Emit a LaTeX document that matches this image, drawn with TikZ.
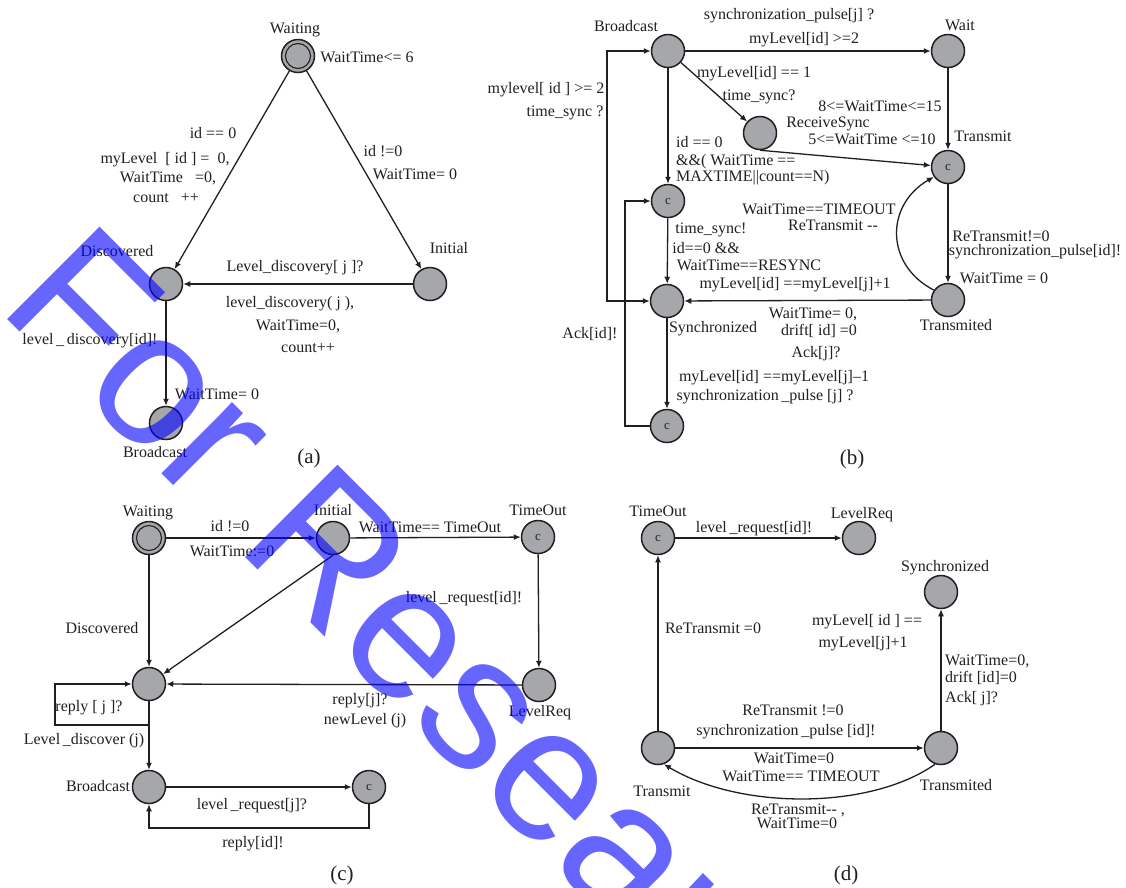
\documentclass[tikz,border=0pt]{standalone}
\usepackage{fontspec}
\setmainfont{Liberation Serif}
\newfontfamily\markfont{Liberation Sans}
\usetikzlibrary{arrows.meta}
\definecolor{ink}{RGB}{35,31,32}
\definecolor{locgray}{RGB}{166,167,171}
\definecolor{markblue}{RGB}{0,0,255}
\newcommand{\lblsize}{\fontsize{16}{18}\selectfont}
\begin{document}
\begin{tikzpicture}[x=1pt,y=-1pt,
  loc/.style={circle,draw=ink,line width=1.5pt,fill=locgray,minimum size=33pt,inner sep=0pt,
    font=\fontsize{13}{13}\selectfont,text=ink},
  lbl/.style={inner sep=0pt,font=\lblsize,text=ink,text height=11pt,text depth=3pt},
  lbll/.style={lbl,anchor=west},
  subcap/.style={inner sep=0pt,font=\fontsize{21}{21}\selectfont,text=ink},
  tr/.style={draw=ink,line width=1.3pt,-{Latex[length=7pt,width=6pt]}},
  bi/.style={draw=ink,line width=1.3pt,{Latex[length=7pt,width=6pt]}-{Latex[length=7pt,width=6pt]}},
  ring/.style={draw=ink,line width=1.1pt},
]
\useasboundingbox (0,0) rectangle (1126,887);
\fill[white] (0,0) rectangle (1126,887);

% ---------------- (a) ----------------
\node[loc] (aW) at (298,56) {};
\draw[ring] (aW.center) circle (12.5);
\node[loc] (aD) at (166,284) {};
\node[loc] (aI) at (430,284) {};
\node[loc] (aB) at (166,423) {};
\draw[tr] (aW) -- (aD);
\draw[tr] (aW) -- (aI);
\draw[tr] (aI) -- (aD);
\draw[tr] (aD) -- (aB);
\node[lbl] at (295,29) {Waiting};
\node[lbl] at (367,58) {WaitTime<= 6};
\node[lbl] at (213,134) {id == 0};
\node[lbl] at (165,159) {myLevel\ \ [ id ] =\ \ 0,};
\node[lbl] at (168,178) {WaitTime\ \ \ =0,};
\node[lbl] at (166,198) {count\ \ \ ++};
\node[lbl] at (383,152) {id !=0};
\node[lbl] at (415,175) {WaitTime= 0};
\node[lbl] at (449,249) {Initial};
\node[lbl] at (117,252) {Discovered};
\node[lbl] at (295,267) {Level\_discovery[ j ]?};
\node[lbl] at (290,303) {level\_discovery( j ),};
\node[lbl] at (298,326) {WaitTime=0,};
\node[lbl] at (308,348) {count++};
\node[lbl] at (90,340) {level\,\_\,discovery[id]!};
\node[lbl] at (217,395) {WaitTime= 0};
\node[lbl] at (155,453) {Broadcast};
\node[subcap] at (309,458) {(a)};

% ---------------- (b) ----------------
\node[loc] (bB) at (668,51) {};
\node[loc] (bW) at (948,51) {};
\node[loc] (bR) at (760,133) {};
\node[loc] (bT) at (948,167) {c};
\node[loc] (bX) at (948,300) {};
\node[loc] (bS) at (667,301) {};
\node[loc] (bC1) at (668,201) {c};
\node[loc] (bC2) at (667,426) {c};
\coordinate (bk) at (625,426);
\coordinate (bj) at (607,301);
\draw[tr] (bB) -- (bW);
\draw[tr] (bW) -- (bT);
\draw[tr] (bB) -- (bR);
\draw[tr] (bR.south) -- (bT);
\draw[tr] (bB) -- (bC1);
\draw[tr] (bC1) -- (bS);
\draw[tr] (bT) -- (bX);
\draw[tr] (bX.145) .. controls (885,265) and (885,205) .. (bT.215);
\draw[tr] (bX) -- (bS);
\draw[tr] (bS) -- (bC2);
\draw[tr] (bC2.west) -- (bk) |- (bC1.west);
\draw[bi] (bS.west) -- (bj) |- (bB.west);
\node[lbl] at (626,27) {Broadcast};
\node[lbl] at (789,15) {synchronization\_pulse[j] ?};
\node[lbl] at (804,39) {myLevel[id] >=2};
\node[lbl] at (960,26) {Wait};
\node[lbl] at (754,73) {myLevel[id] == 1};
\node[lbl] at (759,96) {time\_sync?};
\node[lbl] at (546,89) {mylevel[ id ] >= 2};
\node[lbl] at (565,112) {time\_sync ?};
\node[lbl] at (880,107) {8<=WaitTime<=15};
\node[lbl] at (828,123) {ReceiveSync};
\node[lbl] at (872,140) {5<=WaitTime <=10};
\node[lbl] at (983,137) {Transmit};
\node[lbll] at (676,143) {id == 0};
\node[lbll] at (676,161) {\&\&( WaitTime ==};
\node[lbll] at (676,177) {MAXTIME||count==N)};
\node[lbl] at (819,210) {WaitTime==TIMEOUT};
\node[lbl] at (833,226) {ReTransmit -{}-};
\node[lbl] at (711,229) {time\_sync!};
\node[lbl] at (706,249) {id==0 \&\&};
\node[lbl] at (749,266) {WaitTime==RESYNC};
\node[lbl] at (1001,237) {ReTransmit!=0};
\node[lbl] at (1035,251) {synchronization\_pulse[id]!};
\node[lbl] at (1004,279) {WaitTime = 0};
\node[lbl] at (795,284) {myLevel[id] ==myLevel[j]+1};
\node[lbl] at (813,314) {WaitTime= 0,};
\node[lbl] at (819,331) {drift[ id] =0};
\node[lbl] at (816,353) {Ack[j]?};
\node[lbl] at (713,328) {Synchronized};
\node[lbl] at (956,326) {Transmited};
\node[lbl] at (590,334) {Ack[id]!};
\node[lbl] at (774,377) {myLevel[id] ==myLevel[j]\textendash1};
\node[lbl] at (765,396) {synchronization\,\_pulse [j] ?};
\node[subcap] at (852,459) {(b)};

% ---------------- (c) ----------------
\node[loc] (cW) at (149,538) {};
\draw[ring] (cW.center) circle (12.5);
\node[loc] (cI) at (333,538) {};
\node[loc] (cT) at (538,537) {c};
\node[loc] (cL) at (539,685) {};
\node[loc] (cD) at (149,684) {};
\node[loc] (cB) at (149,787) {};
\node[loc] (cC) at (369,787) {c};
\coordinate (cj) at (149,725);
\coordinate (ck) at (55,725);
\coordinate (cm) at (369,828);
\draw[tr] (cW) -- (cI);
\draw[tr] (cI) -- (cT);
\draw[tr] (cT) -- (cL);
\draw[tr] (cL) -- (cD);
\draw[tr] (cI.south) -- (cD);
\draw[tr] (cW) -- (cD);
\draw[tr] (cD) -- (cB);
\draw[tr] (cj) -- (ck) |- (cD.west);
\draw[tr] (cB) -- (cC);
\draw[tr] (cC.south) -- (cm) -| (cB.south);
\node[lbl] at (148,512) {Waiting};
\node[lbl] at (230,527) {id !=0};
\node[lbl] at (232,552) {WaitTime:=0};
\node[lbl] at (333,511) {Initial};
\node[lbl] at (430,528) {WaitTime== TimeOut};
\node[lbl] at (538,511) {TimeOut};
\node[lbl] at (464,598) {level\,\_request[id]!};
\node[lbl] at (102,629) {Discovered};
\node[lbl] at (89,707) {reply [ j ]?};
\node[lbl] at (84,740) {Level\,\_discover (j)};
\node[lbl] at (360,700) {reply[j]?};
\node[lbl] at (365,720) {newLevel (j)};
\node[lbl] at (540,712) {LevelReq};
\node[lbl] at (98,787) {Broadcast};
\node[lbl] at (252,805) {level\,\_request[j]?};
\node[lbl] at (253,843) {reply[id]!};
\node[subcap] at (342,875) {(c)};

% ---------------- (d) ----------------
\node[loc] (dT) at (658,538) {c};
\node[loc] (dL) at (859,538) {};
\node[loc] (dS) at (941,592) {};
\node[loc] (dX) at (658,748) {};
\node[loc] (dY) at (941,748) {};
\draw[tr] (dT) -- (dL);
\draw[tr] (dX) -- (dT);
\draw[tr] (dX) -- (dY);
\draw[tr] (dY) -- (dS);
\draw[tr] (dY.250) .. controls (870,810) and (740,810) .. (dX.290);
\node[lbl] at (658,512) {TimeOut};
\node[lbl] at (754,528) {level\,\_request[id]!};
\node[lbl] at (862,514) {LevelReq};
\node[lbl] at (945,567) {Synchronized};
\node[lbl] at (713,629) {ReTransmit =0};
\node[lbl] at (867,621) {myLevel[ id ] ==};
\node[lbl] at (863,643) {myLevel[j]+1};
\node[lbll] at (945,661) {WaitTime=0,};
\node[lbll] at (945,678) {drift [id]=0};
\node[lbll] at (945,698) {Ack[ j]?};
\node[lbl] at (793,711) {ReTransmit !=0};
\node[lbl] at (786,731) {synchronization\,\_pulse [id]!};
\node[lbl] at (794,759) {WaitTime=0};
\node[lbl] at (801,777) {WaitTime== TIMEOUT};
\node[lbl] at (662,792) {Transmit};
\node[lbl] at (956,786) {Transmited};
\node[lbl] at (798,810) {ReTransmit-{}- ,};
\node[lbl] at (797,824) {WaitTime=0};
\node[subcap] at (846,875) {(d)};

% ---------------- overlay text ----------------
\begin{scope}
\clip (0,0) rectangle (1126,887);
\node[anchor=base west,inner sep=0pt,rotate=-45,font=\markfont\fontsize{190}{190}\selectfont,
  text=markblue,text opacity=0.6] (mark) at (-4,308) {For Research};
\end{scope}
\end{tikzpicture}
\end{document}
